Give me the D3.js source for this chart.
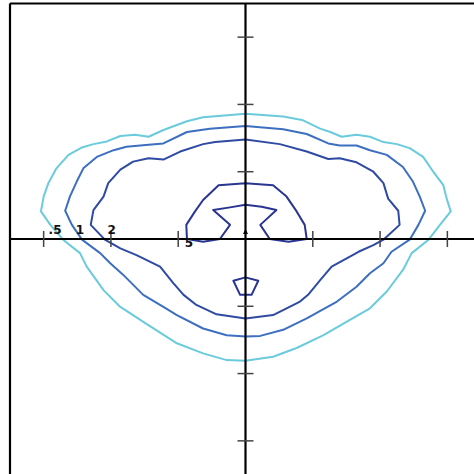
<!DOCTYPE html>
<meta charset="utf-8">
<style>

html, body {
  margin: 0;
  padding: 0;
  background: #fff;
}

svg {
  display: block;
}

.frame line, .axis line.main {
  stroke: #000;
  stroke-width: 2.2px;
}

.axis line.tick {
  stroke: #444;
  stroke-width: 1.5px;
}

.contours path {
  fill: none;
  stroke-width: 2px;
  stroke-linejoin: round;
}

.labels text {
  font: 600 12px "DejaVu Sans", sans-serif;
  fill: #111;
}

</style>
<svg class="chart"></svg>
<script src="https://cdn.jsdelivr.net/npm/d3@7"></script>
<script>

// contour levels and how they are drawn
var levels = ['.5', '1', '2', '5'];
var levelColors = ['#6acbdc', '#3d6fc0', '#2f4aa3', '#2a3592'];

// where the level labels sit (data units)
var labelX = [-2.83, -2.46, -1.99, -0.84];
var labelY = [0.07, 0.07, 0.07, -0.12];

var tickValues = [-3, -2, -1, 1, 2, 3];

// contour polylines, [x, y] in data units
var contourHalf = [
  [0, 1.86], [0.56, 1.82], [0.84, 1.77], [1.11, 1.64], [1.26, 1.59], [1.43, 1.52],
  [1.65, 1.55], [1.85, 1.52], [2.05, 1.44], [2.25, 1.41], [2.44, 1.35], [2.64, 1.22],
  [2.79, 1.00], [2.94, 0.80], [2.99, 0.60], [3.05, 0.41], [2.89, 0.21], [2.72, -0.01],
  [2.47, -0.21], [2.34, -0.46], [2.10, -0.78], [1.85, -1.03], [1.50, -1.23], [1.16, -1.43],
  [0.76, -1.62], [0.41, -1.75], [0, -1.81], [-0.28, -1.80], [-0.63, -1.70], [-1.02, -1.55],
  [-1.49, -1.25], [-1.86, -1.01], [-2.11, -0.76], [-2.36, -0.41], [-2.46, -0.21], [-2.71, -0.01],
  [-2.90, 0.21], [-3.04, 0.41], [-3.00, 0.63], [-2.93, 0.83], [-2.81, 1.05], [-2.63, 1.25],
  [-2.43, 1.36], [-2.26, 1.41], [-2.06, 1.45], [-1.86, 1.53], [-1.64, 1.55], [-1.44, 1.52],
  [-1.22, 1.62], [-0.87, 1.75], [-0.63, 1.81]
];

var contourOne = [
  [0, 1.68], [0.56, 1.63], [0.91, 1.56], [1.23, 1.42], [1.40, 1.39], [1.65, 1.39],
  [1.85, 1.32], [2.10, 1.25], [2.34, 1.07], [2.49, 0.85], [2.59, 0.63], [2.67, 0.42],
  [2.57, 0.21], [2.44, -0.01], [2.17, -0.19], [2.05, -0.36], [1.85, -0.51], [1.65, -0.71],
  [1.36, -0.93], [0.91, -1.18], [0.56, -1.35], [0.22, -1.44], [0, -1.45], [-0.28, -1.43],
  [-0.63, -1.33], [-1.02, -1.13], [-1.22, -1.01], [-1.52, -0.83], [-1.82, -0.53], [-2.01, -0.36],
  [-2.16, -0.21], [-2.43, -0.01], [-2.58, 0.21], [-2.68, 0.42], [-2.61, 0.63], [-2.51, 0.85],
  [-2.41, 1.05], [-2.21, 1.22], [-1.96, 1.32], [-1.77, 1.37], [-1.44, 1.40], [-1.22, 1.42],
  [-0.87, 1.59], [-0.53, 1.64]
];

var contourTwo = [
  [0, 1.48], [0.51, 1.41], [0.91, 1.30], [1.23, 1.19], [1.40, 1.20], [1.65, 1.14],
  [1.90, 1.00], [2.05, 0.83], [2.12, 0.60], [2.27, 0.42], [2.29, 0.21], [2.05, -0.01],
  [1.90, -0.09], [1.68, -0.19], [1.28, -0.41], [1.11, -0.61], [0.93, -0.83], [0.81, -0.93],
  [0.41, -1.13], [0, -1.18], [-0.43, -1.12], [-0.73, -0.98], [-0.92, -0.83], [-1.07, -0.66],
  [-1.27, -0.41], [-1.62, -0.24], [-1.86, -0.14], [-2.09, -0.01], [-2.30, 0.21], [-2.26, 0.43],
  [-2.11, 0.63], [-2.04, 0.83], [-1.86, 1.03], [-1.67, 1.15], [-1.44, 1.20], [-1.22, 1.18],
  [-0.97, 1.30], [-0.63, 1.41], [-0.45, 1.44]
];

var contourFive = [
  [-0.87, 0.00], [-0.88, 0.21], [-0.75, 0.41], [-0.63, 0.58], [-0.40, 0.80], [0, 0.83],
  [0.41, 0.80], [0.61, 0.63], [0.76, 0.41], [0.88, 0.21], [0.91, 0.00], [0.64, -0.04],
  [0.36, 0.00], [0.22, 0.21], [0.46, 0.43], [0.24, 0.48], [0, 0.51], [-0.23, 0.47],
  [-0.48, 0.43], [-0.23, 0.21], [-0.38, 0.00], [-0.63, -0.04]
];

var contourFiveIsland = [
  [-0.18, -0.62], [0, -0.57], [0.19, -0.62], [0.09, -0.83], [-0.08, -0.83]
];

var width = 474;
var height = 474;

var x = d3.scaleLinear().domain([-3.5, 3.5]).range([10, 481]);
var y = d3.scaleLinear().domain([3.5, -3.5]).range([3.5, 474.5]);

var svg = d3.select('svg.chart')
  .attr('width', width)
  .attr('height', height);

var line = d3.line()
  .x(function (d) { return x(d[0]); })
  .y(function (d) { return y(d[1]); })
  .curve(d3.curveLinearClosed);

var contours = [
  {level: 0, points: contourHalf},
  {level: 1, points: contourOne},
  {level: 2, points: contourTwo},
  {level: 3, points: contourFive},
  {level: 3, points: contourFiveIsland}
];

// frame on the top and left
var frame = svg.append('g').attr('class', 'frame');
frame.append('line')
  .attr('x1', x(-3.5)).attr('x2', x(3.5))
  .attr('y1', y(3.5)).attr('y2', y(3.5));
frame.append('line')
  .attr('x1', x(-3.5)).attr('x2', x(-3.5))
  .attr('y1', y(3.5)).attr('y2', y(-3.5));

svg.append('g')
    .attr('class', 'contours')
  .selectAll('path')
  .data(contours)
  .enter().append('path')
    .attr('stroke', function (d) { return levelColors[d.level]; })
    .attr('d', function (d) { return line(d.points); });

// axes through the origin
var axis = svg.append('g').attr('class', 'axis');

axis.append('line').attr('class', 'main')
  .attr('x1', x(-3.5)).attr('x2', x(3.5))
  .attr('y1', y(0)).attr('y2', y(0));
axis.append('line').attr('class', 'main')
  .attr('x1', x(0)).attr('x2', x(0))
  .attr('y1', y(3.5)).attr('y2', y(-3.5));

axis.selectAll('line.xtick')
  .data(tickValues)
  .enter().append('line')
    .attr('class', 'tick')
    .attr('x1', function (d) { return x(d); })
    .attr('x2', function (d) { return x(d); })
    .attr('y1', y(0) - 8)
    .attr('y2', y(0) + 8);

axis.selectAll('line.ytick')
  .data(tickValues)
  .enter().append('line')
    .attr('class', 'tick')
    .attr('y1', function (d) { return y(d); })
    .attr('y2', function (d) { return y(d); })
    .attr('x1', x(0) - 8)
    .attr('x2', x(0) + 8);

// small marker at the origin
axis.append('path')
  .attr('d', 'M' + x(0) + ',' + (y(0) - 10) + 'l2.5,5h-5z')
  .attr('fill', '#000');

svg.append('g')
    .attr('class', 'labels')
  .selectAll('text')
  .data(levels)
  .enter().append('text')
    .attr('x', function (d, i) { return x(labelX[i]); })
    .attr('y', function (d, i) { return y(labelY[i]); })
    .attr('text-anchor', 'middle')
    .text(function (d) { return d; });

</script>
